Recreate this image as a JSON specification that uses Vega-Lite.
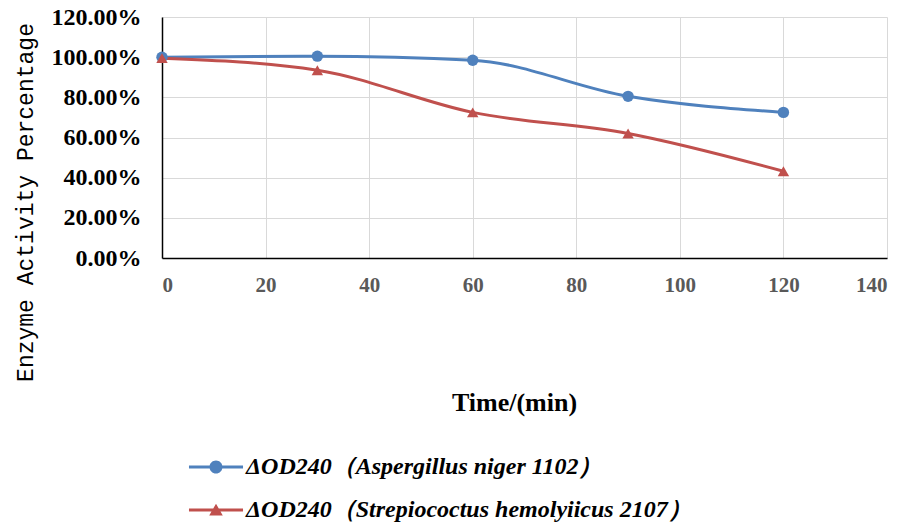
{
  "$schema": "https://vega.github.io/schema/vega-lite/v6.json",
  "width": 725,
  "height": 241,
  "autosize": {"type": "none"},
  "padding": {"left": 162, "top": 17, "right": 21, "bottom": 266},
  "background": "white",
  "config": {"view": {"stroke": null}, "font": "Liberation Serif"},
  "data": {
    "values": [
      {"series": "ΔOD240（Aspergillus niger 1102）", "time": 0, "pct": 1.0},
      {"series": "ΔOD240（Aspergillus niger 1102）", "time": 30, "pct": 1.005},
      {"series": "ΔOD240（Aspergillus niger 1102）", "time": 60, "pct": 0.985},
      {"series": "ΔOD240（Aspergillus niger 1102）", "time": 90, "pct": 0.805},
      {"series": "ΔOD240（Aspergillus niger 1102）", "time": 120, "pct": 0.725},
      {"series": "ΔOD240（Strepiococtus hemolyiicus 2107）", "time": 0, "pct": 0.995},
      {"series": "ΔOD240（Strepiococtus hemolyiicus 2107）", "time": 30, "pct": 0.935},
      {"series": "ΔOD240（Strepiococtus hemolyiicus 2107）", "time": 60, "pct": 0.725},
      {"series": "ΔOD240（Strepiococtus hemolyiicus 2107）", "time": 90, "pct": 0.62},
      {"series": "ΔOD240（Strepiococtus hemolyiicus 2107）", "time": 120, "pct": 0.432}
    ]
  },
  "encoding": {
    "x": {
      "field": "time",
      "type": "quantitative",
      "scale": {"domain": [0, 140], "nice": false},
      "axis": {
        "values": [0, 20, 40, 60, 80, 100, 120, 140],
        "grid": true,
        "gridColor": "#d9d9d9",
        "gridWidth": 1,
        "domainColor": "#000000",
        "domainWidth": 1.5,
        "ticks": false,
        "labelFont": "Liberation Serif",
        "labelFontWeight": "bold",
        "labelFontSize": 21,
        "labelColor": "#595959",
        "labelPadding": 16,
        "title": "Time/(min)",
        "titleFont": "Liberation Serif",
        "titleFontSize": 26,
        "titleFontWeight": "bold",
        "titleColor": "#000000",
        "titleAlign": "center",
        "titleBaseline": "middle",
        "titleX": 352,
        "titleY": 144
      }
    },
    "y": {
      "field": "pct",
      "type": "quantitative",
      "scale": {"domain": [0, 1.2], "nice": false},
      "axis": {
        "values": [0, 0.2, 0.4, 0.6, 0.8, 1.0, 1.2],
        "format": ".2%",
        "grid": true,
        "gridColor": "#d9d9d9",
        "gridWidth": 1,
        "domainColor": "#000000",
        "domainWidth": 1.5,
        "ticks": false,
        "labelFont": "Liberation Serif",
        "labelFontWeight": "bold",
        "labelFontSize": 24,
        "labelColor": "#000000",
        "labelPadding": 21,
        "title": "Enzyme Activity Percentage",
        "titleFont": "Liberation Mono",
        "titleFontSize": 23,
        "titleFontWeight": "normal",
        "titleColor": "#000000",
        "titleAngle": -90,
        "titleAlign": "center",
        "titleBaseline": "middle",
        "titleX": -137,
        "titleY": 185
      }
    },
    "color": {
      "field": "series",
      "type": "nominal",
      "scale": {
        "domain": ["ΔOD240（Aspergillus niger 1102）", "ΔOD240（Strepiococtus hemolyiicus 2107）"],
        "range": ["#4f81bd", "#c0504d"]
      },
      "legend": {
        "title": null,
        "orient": "none",
        "legendX": 42,
        "legendY": 438,
        "direction": "vertical",
        "padding": 0,
        "rowPadding": 19,
        "labelFont": "Liberation Serif",
        "labelFontStyle": "italic",
        "labelFontWeight": "bold",
        "labelFontSize": 24,
        "labelColor": "#000000",
        "labelLimit": 0,
        "labelOffset": 18,
        "symbolSize": 196,
        "symbolStrokeWidth": 0,
        "encode": {
          "symbols": {
            "update": {
              "shape": {"signal": "indexof(datum.value, 'Aspergillus') >= 0 ? 'M -3.86 -0.21 H 3.86 V 0.21 H -3.86 Z M 0.93 0 A 0.93 0.93 0 1 1 -0.93 0 A 0.93 0.93 0 1 1 0.93 0 Z' : 'M -3.86 -0.21 H 3.86 V 0.21 H -3.86 Z M 0 -0.9 L 0.97 0.78 L -0.97 0.78 Z'"},
              "fill": {"signal": "scale('color', datum.value)"},
              "strokeWidth": {"value": 0},
              "opacity": {"value": 1}
            }
          }
        }
      }
    }
  },
  "layer": [
    {
      "mark": {"type": "line", "interpolate": "monotone", "strokeWidth": 3}
    },
    {
      "transform": [{"filter": "indexof(datum.series, 'Aspergillus') >= 0"}],
      "mark": {"type": "point", "shape": "circle", "filled": true, "size": 130, "opacity": 1}
    },
    {
      "transform": [{"filter": "indexof(datum.series, 'Aspergillus') < 0"}],
      "mark": {"type": "point", "shape": "triangle-up", "filled": true, "size": 130, "opacity": 1}
    }
  ]
}
